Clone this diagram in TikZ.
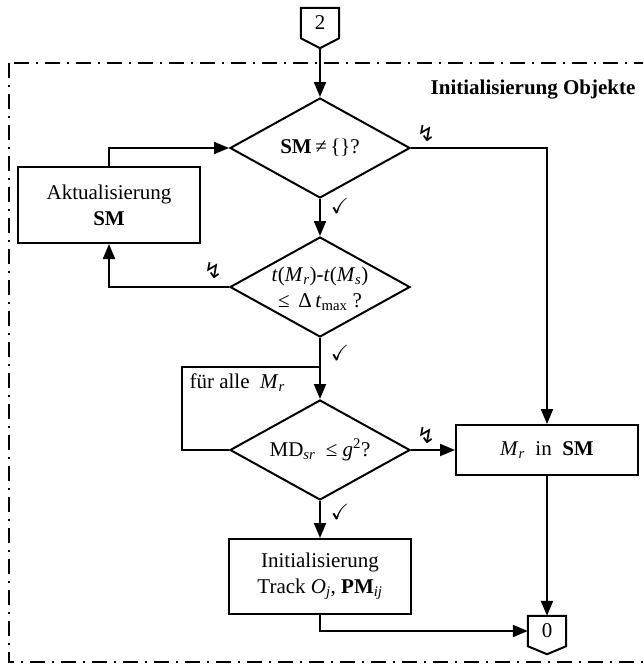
\documentclass[tikz,border=0pt]{standalone}
\usepackage{amssymb}
\usepackage{fontspec}
\setmainfont{Liberation Serif}
\newfontfamily\symfont{DejaVu Sans}
\usetikzlibrary{shapes.geometric,arrows.meta}
\newcommand\txtf{\fontsize{21pt}{26pt}\selectfont}
\newcommand\lgt{{\symfont\fontsize{22pt}{22pt}\selectfont ↯}}
\newcommand\chk{{\fontsize{22pt}{22pt}\selectfont$\checkmark$}}
\begin{document}
\begin{tikzpicture}[x=1pt,y=-1pt,
  every node/.style={font=\txtf},
  ln/.style={line width=2pt},
  arr/.style={ln,-{Triangle[length=15pt,width=12pt]}},
  box/.style={draw,ln,minimum width=182pt,inner sep=0pt,align=center},
  dec/.style={draw,ln,diamond,minimum width=180pt,minimum height=100pt,inner sep=0pt},
  conn/.style={minimum width=38pt,minimum height=30pt,inner sep=0pt},
  frame/.style={line width=2.2pt,dash pattern=on 15pt off 7pt on 2pt off 7pt},
  lbl/.style={inner sep=0pt,align=center}
]
\useasboundingbox (0,0) rectangle (643,664);
\clip (0,0) rectangle (643,664);
\draw[frame] (9,63) rectangle (660,662);
\node[anchor=base east,font=\txtf\bfseries] (title) at (639,94) {Initialisierung Objekte};

% connector 2
\node[conn] (c2) at (320,23) {\raisebox{-2pt}{2}};
\draw[ln] (c2.north west) -- (c2.north east) -- (c2.south east) -- ([yshift=-10pt]c2.south) -- (c2.south west) -- cycle;
\coordinate (c2tip) at ([yshift=-10pt]c2.south);

% decisions
\node[dec] (d1) at (320,148) {};
\node[lbl] (d1t) at (d1.center) {\textbf{SM}\,≠\,\{\}?};
\node[dec] (d2) at (320,287) {};
\node[lbl] (d2t) at (320,289) {\textit{t}(\textit{M}\textsubscript{\textit{r}})-\textit{t}(\textit{M}\textsubscript{\textit{s}})\\≤\, Δ\,\textit{t}\textsubscript{max} ?};
\node[dec] (d3) at (320,450) {};
\node[lbl] (d3t) at (d3.center) {MD\textsubscript{\textit{sr}}\ \ ≤\ \textit{g}\textsuperscript{2}?};

% boxes
\node[box,minimum height=76pt] (b1) at (109,205) {Aktualisierung\\\textbf{SM}};
\node[box,minimum height=50pt] (mr) at (547,450) {\textit{M}\textsubscript{\textit{r}}\ \ in\ \ \textbf{SM}};
\node[box,minimum height=75pt] (it) at (320,576.5) {Initialisierung\\Track \textit{O}\textsubscript{\textit{j}}, \textbf{PM}\textsubscript{\textit{ij}}};
\node[anchor=west] (fa) at (186,383) {für alle\ \ \textit{M}\textsubscript{\textit{r}}};

% connector 0
\node[conn] (c0) at (547,631) {0};
\draw[ln] (c0.north west) -- (c0.north east) -- (c0.south east) -- ([yshift=-8pt]c0.south) -- (c0.south west) -- cycle;

% marks
\node[lbl] (l1) at (426,133) {\lgt};
\node[lbl] (l2) at (213,270) {\lgt};
\node[lbl] (l3) at (426,435) {\lgt};
\node[lbl] (k1) at (340,206) {\chk};
\node[lbl] (k2) at (340,353) {\chk};
\node[lbl] (k3) at (340,512) {\chk};

% connectors
\draw[arr] (c2tip) -- (d1.north);
\draw[arr] (d1.east) -| (mr.north);
\draw[arr] (d1.south) -- (d2.north);
\draw[arr] (d2.west) -| (b1.south);
\draw[arr] (b1.north) |- (d1.west);
\coordinate (lp) at (182,367);
\draw[ln] (d3.west) -| (lp) -- (lp -| d3.north);
\draw[arr] (d2.south) -- (d3.north);
\draw[arr] (d3.east) -- (mr.west);
\draw[arr] (d3.south) -- (it.north);
\draw[arr] (it.south) |- (c0.west);
\draw[arr] (mr.south) -- (c0.north);
\end{tikzpicture}
\end{document}
